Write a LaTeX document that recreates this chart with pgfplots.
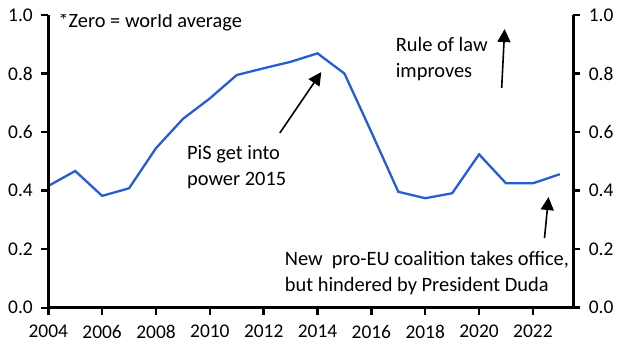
\documentclass[border=0pt]{standalone}
\usepackage{pgfplots}
\pgfplotsset{compat=1.18}
\usepackage{fontspec}
\setmainfont{Carlito}
\usetikzlibrary{arrows.meta}
\definecolor{lineblue}{RGB}{38,92,212}
\pgfplotstableread{
year val
2004 0.416
2005 0.467
2006 0.382
2007 0.408
2008 0.545
2009 0.645
2010 0.715
2011 0.795
2012 0.818
2013 0.840
2014 0.869
2015 0.800
2016 0.600
2017 0.396
2018 0.374
2019 0.391
2020 0.524
2021 0.425
2022 0.425
2023 0.456
}\datatable
\begin{document}
\begin{tikzpicture}
\useasboundingbox (-48.3bp,-47.3bp) rectangle (581.7bp,307.7bp);
\begin{axis}[
  scale only axis, width=525bp, height=292.7bp,
  xmin=2004, xmax=2023.5, ymin=0, ymax=1,
  axis x line=none, axis y line*=right,
  axis line style={line width=3bp, black, -},
  ytick={0,0.2,0.4,0.6,0.8,1.0},
  yticklabels={0.0,0.2,0.4,0.6,0.8,1.0},
  tick align=outside,
  major tick length=7bp,
  major tick style={line width=2.4bp, black},
  ticklabel style={font=\fontsize{19.5}{22}\selectfont},
  yticklabel style={xshift=5bp},
]
\addplot[draw=none] coordinates {(2004,0)};
\end{axis}
\begin{axis}[
  scale only axis, width=525bp, height=292.7bp,
  xmin=2004, xmax=2023.5, ymin=0, ymax=1,
  axis x line=bottom, axis y line=left,
  axis line style={line width=3bp, black, -},
  xtick={2004,2006,...,2022},
  ytick={0,0.2,0.4,0.6,0.8,1.0},
  xticklabels={2004,2006,2008,2010,2012,2014,2016,2018,2020,2022},
  yticklabels={0.0,0.2,0.4,0.6,0.8,1.0},
  tick align=outside,
  major tick length=7bp,
  major tick style={line width=2.4bp, black},
  ticklabel style={font=\fontsize{19.5}{22}\selectfont},
  xticklabel style={yshift=-7bp},
  yticklabel style={xshift=-5bp},
  axis on top,
]
\addplot[lineblue, line width=2.3bp] table[x=year,y=val]{\datatable};
\node[anchor=west, font=\fontsize{20.5}{26}\selectfont, inner sep=0] at (axis cs:2004.37,0.975) {*Zero = world average};
\node[anchor=west, align=left, font=\fontsize{20.5}{26}\selectfont, inner sep=0] at (axis cs:2009.15,0.479) {PiS get into\\power 2015};
\node[anchor=west, align=left, font=\fontsize{20.5}{26}\selectfont, inner sep=0] at (axis cs:2016.9,0.85) {Rule of law\\improves};
\node[anchor=west, align=left, font=\fontsize{20.5}{26}\selectfont, inner sep=0] at (axis cs:2012.78,0.117) {New\ \ pro-EU coalition takes office,\\but hindered by President Duda};
\draw[line width=1.6bp, -{Triangle[length=13bp,width=13bp]}] (axis cs:2012.6,0.597) -- (axis cs:2014.14,0.805);
\draw[line width=1.6bp, -{Triangle[length=13bp,width=13bp]}] (axis cs:2020.84,0.751) -- (axis cs:2020.95,0.952);
\draw[line width=1.6bp, -{Triangle[length=13bp,width=13bp]}] (axis cs:2022.43,0.238) -- (axis cs:2022.58,0.378);
\end{axis}
\end{tikzpicture}
\end{document}
